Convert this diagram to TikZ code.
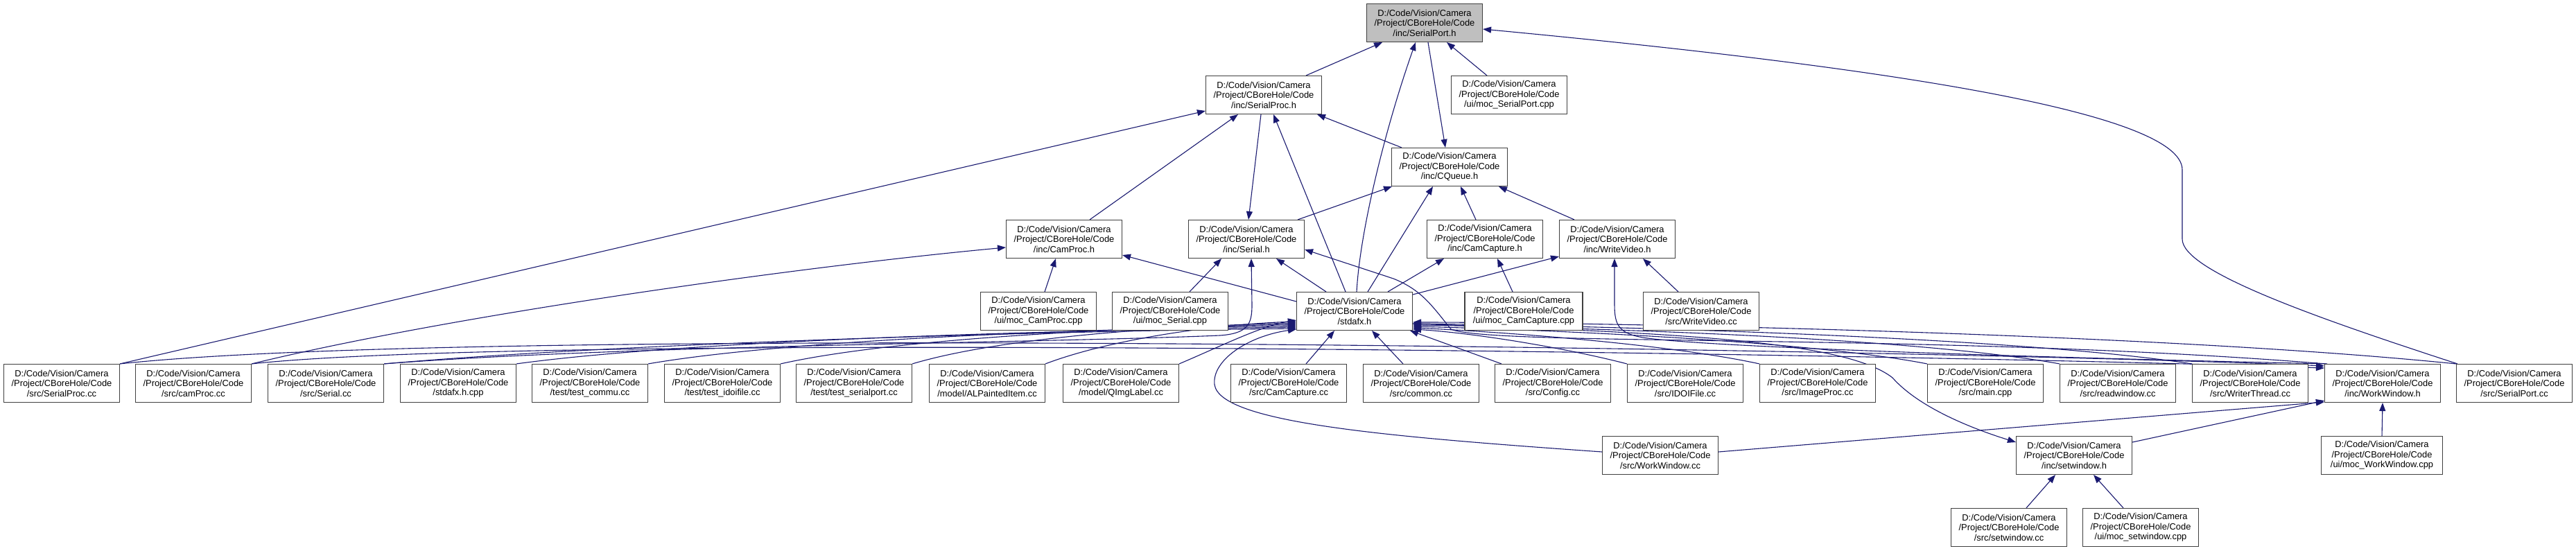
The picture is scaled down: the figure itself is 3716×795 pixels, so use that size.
\documentclass[tikz,border=0pt]{standalone}
\usepackage{fontspec}
\setmainfont{Liberation Sans}
\usetikzlibrary{arrows.meta}
\definecolor{edgeblue}{RGB}{25,25,112}
\newcommand\fs{\fontsize{12.9pt}{14.5pt}\selectfont}
\newcommand\pth[1]{D:/Code/Vision/Camera\\/Project/CBoreHole/Code\\#1}
\pgfdeclarelayer{bglayer}
\pgfsetlayers{bglayer,main}
\begin{document}
\begin{tikzpicture}[x=1pt,y=-1pt,
  box/.style={draw=black!75, line width=1.1pt, fill=white, minimum width=167pt, minimum height=55pt, inner sep=0pt, align=center, font=\fs},
  edge/.style={draw=edgeblue, line width=1.1pt, -{Triangle[length=12pt,width=9pt]}}]
\useasboundingbox (0,0) rectangle (3716,795);
% row 0
\node[box, fill=black!25] (SP) at (2055,33) {\pth{/inc/SerialPort.h}};
% row 1
\node[box] (SPh) at (1823,137) {\pth{/inc/SerialProc.h}};
\node[box] (mocSP) at (2177,137) {\pth{/ui/moc\_SerialPort.cpp}};
% row 2
\node[box] (CQ) at (2091,241) {\pth{/inc/CQueue.h}};
% row 3
\node[box] (CPh) at (1535,345) {\pth{/inc/CamProc.h}};
\node[box] (Sh) at (1798,345) {\pth{/inc/Serial.h}};
\node[box] (CCh) at (2142,345) {\pth{/inc/CamCapture.h}};
\node[box] (WVh) at (2333,345) {\pth{/inc/WriteVideo.h}};
% row 4
\node[box] (mocCP) at (1498,449) {\pth{/ui/moc\_CamProc.cpp}};
\node[box] (mocS) at (1688,449) {\pth{/ui/moc\_Serial.cpp}};
\node[box] (stdafx) at (1954,449) {\pth{/stdafx.h}};
\node[box, minimum width=170pt] (mocCC) at (2198,449) {\pth{/ui/moc\_CamCapture.cpp}};
\node[box] (WVcc) at (2454,449) {\pth{/src/WriteVideo.cc}};
% row 5
\node[box] (SPcc) at (89,553) {\pth{/src/SerialProc.cc}};
\node[box] (cPcc) at (279,553) {\pth{/src/camProc.cc}};
\node[box] (Scc) at (470,553) {\pth{/src/Serial.cc}};
\node[box] (stdcpp) at (661,553) {\pth{/stdafx.h.cpp}};
\node[box] (tcommu) at (851,553) {\pth{/test/test\_commu.cc}};
\node[box] (tidoi) at (1042,553) {\pth{/test/test\_idoifile.cc}};
\node[box] (tsp) at (1232,553) {\pth{/test/test\_serialport.cc}};
\node[box] (ALP) at (1424,553) {\pth{/model/ALPaintedItem.cc}};
\node[box] (QIL) at (1617,553) {\pth{/model/QImgLabel.cc}};
\node[box] (CCcc) at (1859,553) {\pth{/src/CamCapture.cc}};
\node[box] (common) at (2050,553) {\pth{/src/common.cc}};
\node[box] (Config) at (2240,553) {\pth{/src/Config.cc}};
\node[box] (IDOI) at (2431,553) {\pth{/src/IDOIFile.cc}};
\node[box] (IP) at (2622,553) {\pth{/src/ImageProc.cc}};
\node[box] (main) at (2864,553) {\pth{/src/main.cpp}};
\node[box] (readw) at (3055,553) {\pth{/src/readwindow.cc}};
\node[box] (WT) at (3246,553) {\pth{/src/WriterThread.cc}};
\node[box] (WWh) at (3437,553) {\pth{/inc/WorkWindow.h}};
\node[box] (SPcc2) at (3627,553) {\pth{/src/SerialPort.cc}};
% row 6
\node[box] (WWcc) at (2395,657) {\pth{/src/WorkWindow.cc}};
\node[box] (setwh) at (2992,657) {\pth{/inc/setwindow.h}};
\node[box, minimum width=175pt] (mocWW) at (3436,657) {\pth{/ui/moc\_WorkWindow.cpp}};
% row 7
\node[box] (setwcc) at (2898,761) {\pth{/src/setwindow.cc}};
\node[box] (mocsetw) at (3088,761) {\pth{/ui/moc\_setwindow.cpp}};

\begin{pgfonlayer}{bglayer}
\fill[white] (0,0) rectangle (3716,795);
% ---- edges into SerialPort.h
\draw[edge] ([xshift=61pt]SPh.north) -- ([xshift=-61pt]SP.south);
\draw[edge] ([xshift=3pt]stdafx.north) .. controls (1962,330) and (2000,180) .. ([xshift=-13pt]SP.south);
\draw[edge] ([xshift=-32pt]mocSP.north) -- ([xshift=32pt]SP.south);
\draw[edge] ([xshift=-82pt]SPcc2.north) .. controls (3330,455) and (3148,390) .. (3148,345) -- (3148,245) .. controls (3148,160) and (2700,95) .. ([yshift=-9pt]SP.east);
\draw[edge] ([xshift=5pt]SP.south) -- ([xshift=-6pt]CQ.north);
% ---- SerialProc.h
\draw[edge] ([xshift=-69pt]CQ.north) -- ([xshift=77pt]SPh.south);
\draw[edge] (SPcc.north east) -- ([yshift=-23pt]SPh.west);
\draw[edge] ([xshift=37pt]CPh.north) -- ([xshift=-37pt]SPh.south);
\draw[edge] ([xshift=-4pt]SPh.south) -- ([xshift=3pt]Sh.north);
\draw[edge] ([xshift=-13pt]stdafx.north) -- ([xshift=14pt]SPh.south);
% ---- CamProc.h
\draw[edge] (cPcc.north east) .. controls (650,455) and (1150,385) .. ([yshift=-12pt]CPh.west);
\draw[edge] ([yshift=14pt]stdafx.west) -- ([yshift=-23pt]CPh.east);
\draw[edge] ([xshift=9pt]mocCP.north) -- ([xshift=-12pt]CPh.south);
% ---- Serial.h
\draw[edge] ([xshift=28pt]mocS.north) -- ([xshift=-36pt]Sh.south);
\draw[edge] (Scc.north east) .. controls (900,498) and (1500,495) .. (1760,484) .. controls (1800,481) and (1806,468) .. (1806,440) -- ([xshift=7pt]Sh.south);
\draw[edge] ([xshift=-41pt]stdafx.north) -- ([xshift=43pt]Sh.south);
\draw[edge] ([xshift=-82pt]WWh.north) .. controls (2800,480) and (2150,500) .. (2093,475) .. controls (2065,440) and (2050,418) .. (2010,402) -- ([yshift=-15pt]Sh.east);
% ---- CQueue.h
\draw[edge] ([xshift=19pt]stdafx.north) -- ([xshift=-24pt]CQ.south);
\draw[edge] ([xshift=74pt]Sh.north) -- ([xshift=-83pt]CQ.south);
\draw[edge] ([xshift=-13pt]CCh.north) -- ([xshift=16pt]CQ.south);
\draw[edge] ([xshift=-62pt]WVh.north) -- ([xshift=71pt]CQ.south);
% ---- CamCapture.h
\draw[edge] ([xshift=48pt]stdafx.north) -- ([xshift=-59pt]CCh.south);
\draw[edge] ([xshift=-16pt]mocCC.north) -- ([xshift=18pt]CCh.south);
% ---- WriteVideo.h
\draw[edge] ([yshift=24pt]stdafx.east) -- ([yshift=-25pt]WVh.west);
\draw[edge] ([xshift=-80pt]WWh.north) .. controls (2900,515) and (2450,500) .. (2370,487) .. controls (2336,481) and (2329,470) .. (2329,440) -- ([xshift=-4pt]WVh.south);
\draw[edge] ([xshift=-33pt]WVcc.north) -- ([xshift=37pt]WVh.south);
% ---- stdafx.h from below
\draw[edge] ([xshift=25pt]CCcc.north) -- ([xshift=-29pt]stdafx.south);
\draw[edge] ([xshift=-26pt]common.north) -- ([xshift=25pt]stdafx.south);
\draw[edge] ([xshift=-74pt]Config.north) -- ([xshift=80pt]stdafx.south);
% from the right
\draw[edge] (IDOI.north west) .. controls (2250,500) and (2120,480) .. ([yshift=-26pt]stdafx.east);
\draw[edge] (IP.north west) .. controls (2400,495) and (2150,478) .. ([yshift=-24pt]stdafx.east);
\draw[edge] (main.north west) .. controls (2600,490) and (2200,475) .. ([yshift=-22pt]stdafx.east);
\draw[edge] (readw.north west) .. controls (2750,485) and (2250,472) .. ([yshift=-20pt]stdafx.east);
\draw[edge] (WT.north west) .. controls (2900,485) and (2300,470) .. ([yshift=-18pt]stdafx.east);
\draw[edge] (SPcc2.north west) .. controls (3100,480) and (2300,465) .. ([yshift=-16pt]stdafx.east);
% from the left
\draw[edge] (Scc.north east) .. controls (900,495) and (1500,478) .. ([yshift=-25pt]stdafx.west);
\draw[edge] (stdcpp.north east) .. controls (1000,490) and (1550,476) .. ([yshift=-23pt]stdafx.west);
\draw[edge] (tcommu.north east) .. controls (1150,488) and (1600,474) .. ([yshift=-21pt]stdafx.west);
\draw[edge] (tidoi.north east) .. controls (1300,486) and (1650,472) .. ([yshift=-19pt]stdafx.west);
\draw[edge] (tsp.north east) .. controls (1450,485) and (1700,470) .. ([yshift=-17pt]stdafx.west);
\draw[edge] (ALP.north east) .. controls (1600,490) and (1750,468) .. ([yshift=-15pt]stdafx.west);
\draw[edge] (QIL.north east) .. controls (1760,500) and (1820,470) .. ([yshift=-13pt]stdafx.west);
\draw[edge] ([yshift=5pt]WWcc.west) .. controls (2000,630) and (1760,610) .. (1752,555) .. controls (1748,520) and (1800,485) .. ([yshift=-26pt]stdafx.west);
% ---- setwindow.h
\draw[edge] ([yshift=-18pt]stdafx.east) .. controls (2400,480) and (2660,490) .. (2730,545) .. controls (2770,590) and (2850,620) .. ([yshift=19pt]setwh.west);
\draw[edge] ([xshift=25pt]setwcc.north) -- ([xshift=-27pt]setwh.south);
\draw[edge] ([xshift=-25pt]mocsetw.north) -- ([xshift=28pt]setwh.south);
% ---- WorkWindow.h
\draw[edge] ([yshift=5pt]WWcc.east) -- ([yshift=-27pt]WWh.west);
\draw[edge] ([yshift=19pt]setwh.east) -- ([yshift=-25pt]WWh.west);
\draw[edge] (mocWW.north) -- (WWh.south);
\draw[edge] (SPcc.north east) .. controls (700,468) and (2800,505) .. ([yshift=25pt]WWh.west);
\draw[edge] (cPcc.north east) .. controls (800,478) and (2800,512) .. ([yshift=22pt]WWh.west);
\end{pgfonlayer}
\end{tikzpicture}
\end{document}
